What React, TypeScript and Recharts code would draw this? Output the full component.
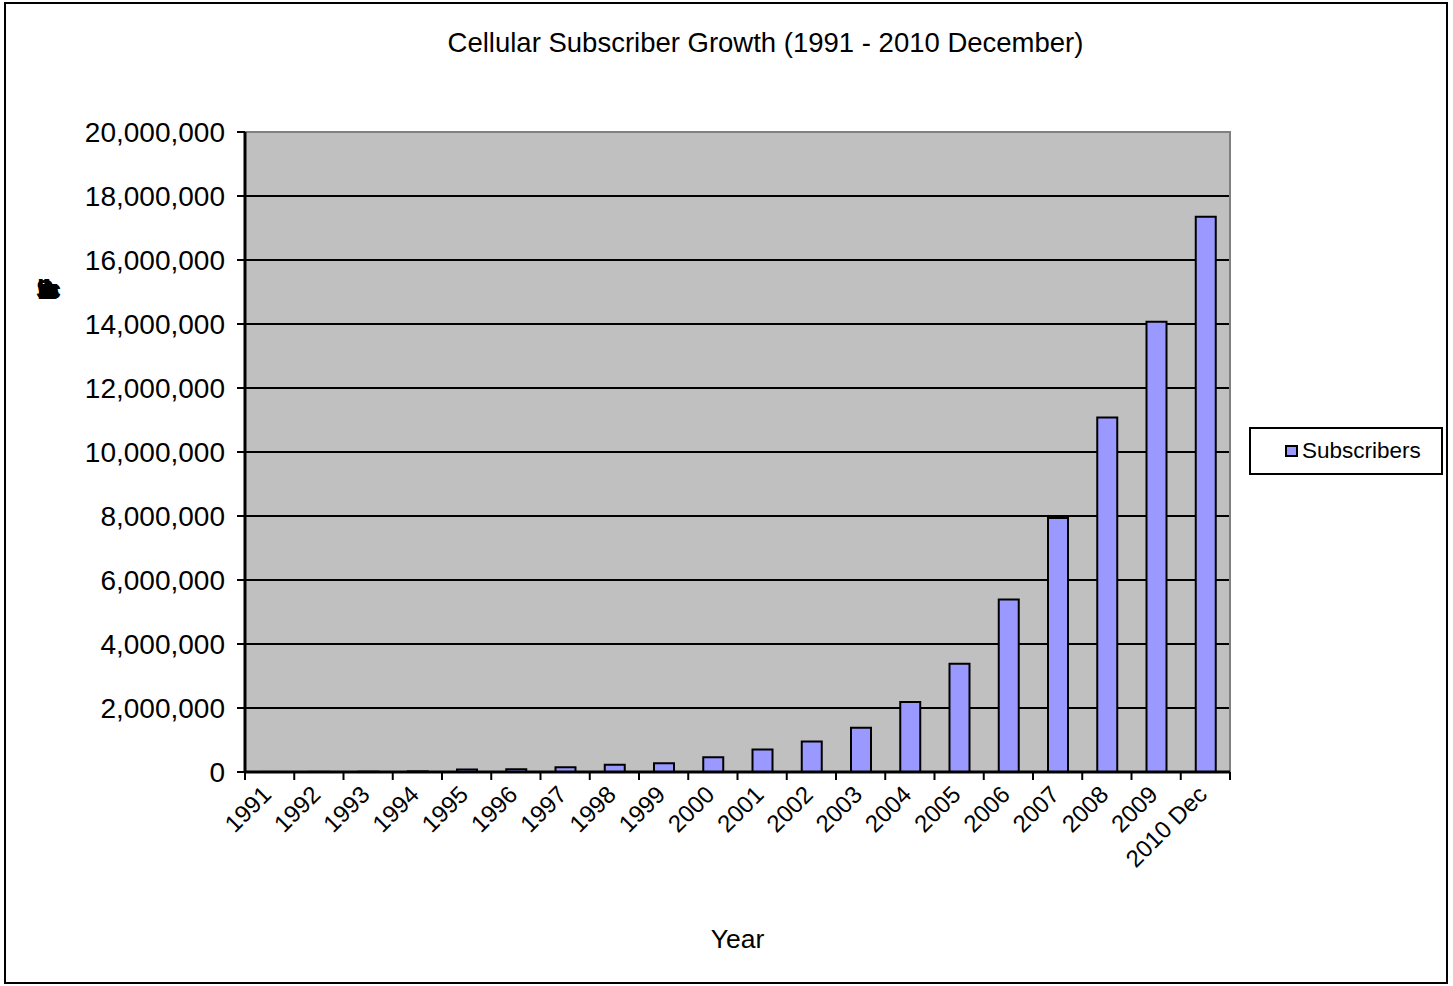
import React from "react";
import {
  BarChart,
  Bar,
  XAxis,
  YAxis,
  CartesianGrid,
  Legend,
  ReferenceArea,
} from "recharts";

const years = [
  "1991", "1992", "1993", "1994", "1995", "1996", "1997", "1998", "1999", "2000",
  "2001", "2002", "2003", "2004", "2005", "2006", "2007", "2008", "2009", "2010 Dec",
];

const subscribers = [
  2000, 5000, 10000, 20000, 80000, 85000, 150000, 225000, 275000, 460000,
  700000, 950000, 1380000, 2190000, 3380000, 5390000, 7940000, 11080000, 14070000, 17350000,
];

const yTicks = [
  0, 2000000, 4000000, 6000000, 8000000, 10000000, 12000000, 14000000, 16000000, 18000000, 20000000,
];

const data = years.map((year, i) => ({ year, Subscribers: subscribers[i] }));

const FONT = "'Liberation Sans', Arial, sans-serif";
const W = 1453;
const H = 986;
const PLOT_LEFT = 245;
const PLOT_RIGHT = 1230;
const BAND = (PLOT_RIGHT - PLOT_LEFT) / years.length;

const XTick = (props: any) => {
  const { x, y, payload, index } = props;
  const ax = x + 3;
  const ay = y + 24;
  return (
    <g>
      <line x1={x - BAND / 2} y1={y} x2={x - BAND / 2} y2={y + 8} stroke="#000" strokeWidth={2} />
      {index === years.length - 1 && (
        <line x1={x + BAND / 2} y1={y} x2={x + BAND / 2} y2={y + 8} stroke="#000" strokeWidth={2} />
      )}
      <text
        x={ax}
        y={ay}
        transform={`rotate(-45 ${ax} ${ay})`}
        textAnchor="end"
        fontSize={24}
        fontFamily={FONT}
        fill="#000"
      >
        {payload.value}
      </text>
    </g>
  );
};

const LegendBox = () => (
  <div
    style={{
      width: 194,
      height: 48,
      boxSizing: "border-box",
      border: "2px solid #000",
      background: "#fff",
      display: "flex",
      alignItems: "center",
      fontFamily: FONT,
      fontSize: 22.5,
      color: "#000",
    }}
  >
    <span
      style={{
        display: "inline-block",
        flexShrink: 0,
        boxSizing: "border-box",
        width: 13,
        height: 12,
        marginLeft: 34,
        marginRight: 4,
        background: "#9999FF",
        border: "2px solid #000",
      }}
    />
    <span>Subscribers</span>
  </div>
);

export default function App() {
  return (
    <div style={{ position: "absolute", left: 0, top: 0, width: W, height: H, background: "#fff" }}>
      <div
        style={{
          position: "absolute",
          left: 4,
          top: 2,
          width: 1444,
          height: 982,
          boxSizing: "border-box",
          border: "2px solid #000",
        }}
      />
      <div
        style={{
          position: "absolute",
          left: 0,
          width: 1531,
          top: 27,
          textAlign: "center",
          fontFamily: FONT,
          fontSize: 27.5,
          color: "#000",
          whiteSpace: "nowrap",
        }}
      >
        Cellular Subscriber Growth (1991 - 2010 December)
      </div>
      <div
        style={{
          position: "absolute",
          left: 36,
          top: 275,
          width: 24,
          fontFamily: FONT,
          fontSize: 27,
          fontWeight: "bold",
          letterSpacing: -14,
          color: "#000",
          whiteSpace: "nowrap",
        }}
      >
        Subscribers
      </div>
      <div style={{ position: "absolute", left: 0, top: 0 }}>
        <BarChart
          width={W}
          height={H}
          data={data}
          margin={{ top: 132, right: W - PLOT_RIGHT, left: PLOT_LEFT - 100, bottom: 24 }}
          barSize={20}
        >
          <CartesianGrid
            vertical={false}
            fill="#C0C0C0"
            stroke="#000"
            strokeWidth={2}
            fillOpacity={1}
          />
          <ReferenceArea y1={0} y2={20000000} fill="none" stroke="#808080" strokeWidth={2} />
          <XAxis
            dataKey="year"
            interval={0}
            tickLine={false}
            tickSize={0}
            tickMargin={0}
            axisLine={{ stroke: "#000", strokeWidth: 3 }}
            height={190}
            tick={(p: any) => <XTick {...p} />}
            label={{
              value: "Year",
              position: "insideBottom",
              offset: 14,
              fill: "#000",
              fontSize: 26.5,
              fontFamily: FONT,
            }}
          />
          <YAxis
            width={100}
            domain={[0, 20000000]}
            ticks={yTicks}
            interval={0}
            tickSize={8}
            tickMargin={12}
            tickLine={{ stroke: "#000", strokeWidth: 2 }}
            axisLine={{ stroke: "#000", strokeWidth: 3 }}
            tickFormatter={(v: number) => v.toLocaleString("en-US")}
            tick={{ fill: "#000", fontSize: 28, fontFamily: FONT }}
          />
          <Legend
            layout="vertical"
            align="center"
            verticalAlign="middle"
            content={() => <LegendBox />}
            wrapperStyle={{ position: "absolute", left: 1249, top: 427, width: 194, height: 48 }}
          />
          <Bar
            dataKey="Subscribers"
            fill="#9999FF"
            stroke="#000"
            strokeWidth={2}
            isAnimationActive={false}
          />
        </BarChart>
      </div>
    </div>
  );
}
